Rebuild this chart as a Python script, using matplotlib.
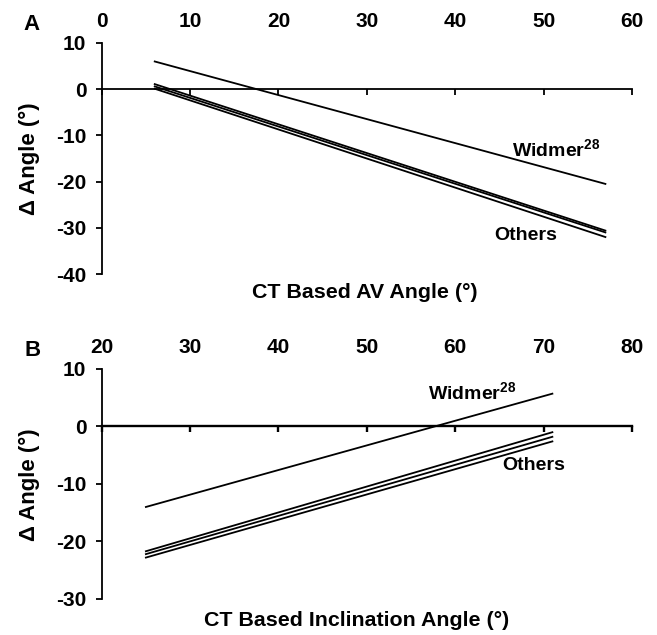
from matplotlib import pyplot as plt
import numpy as np

plt.rcParams['font.family'] = ['Liberation Sans', 'DejaVu Sans']
plt.rcParams['font.weight'] = 'bold'
plt.rcParams['axes.unicode_minus'] = False
plt.rcParams['mathtext.fontset'] = 'custom'
plt.rcParams['mathtext.bf'] = 'Liberation Sans:bold'
plt.rcParams['mathtext.rm'] = 'Liberation Sans:bold'

# panel A: delta angle vs CT based AV angle (line end points)
av_x = [6, 57]
av_widmer = [6.0, -20.5]
av_others = [[1.1, -30.6], [0.6, -31.0], [0.1, -32.0]]

# panel B: delta angle vs CT based inclination angle
inc_x = [25, 71]
inc_widmer = [-14.0, 5.7]
inc_others = [[-21.7, -1.0], [-22.2, -1.8], [-22.8, -2.6]]

fig = plt.figure(figsize=(6.57, 6.35), dpi=100)


def style(ax, xlim, xticks, ylim, yticks, xw=1.3):
    ax.set_xlim(xlim)
    ax.set_ylim(ylim)
    ax.set_xticks(xticks)
    ax.set_yticks(yticks)
    ax.spines['top'].set_visible(False)
    ax.spines['right'].set_visible(False)
    ax.spines['bottom'].set_position(('data', 0))
    ax.spines['bottom'].set_linewidth(xw)
    ax.spines['left'].set_linewidth(1.3)
    ax.tick_params(axis='x', direction='out', length=4, width=xw,
                   bottom=True, top=False, labelbottom=False, labeltop=True,
                   pad=4.3, labelsize=15)
    ax.tick_params(axis='y', direction='out', length=4, width=1.3,
                   labelsize=15, pad=7)
    for t in ax.get_xticklabels() + ax.get_yticklabels():
        t.set_fontweight('bold')


axA = fig.add_axes([0.1548, 0.5685, 0.807, 0.3638])
style(axA, (0, 60), range(0, 61, 10), (-40, 10), range(-40, 11, 10))
axA.plot(av_x, av_widmer, color='black', lw=1.3)
for ys in av_others:
    axA.plot(av_x, ys, color='black', lw=1.3)
axA.text(51.4, -13.2, r'Widmer$^{\mathbf{28}}$', fontsize=14, fontweight='bold', ha='center', va='center')
axA.text(48.0, -31.6, 'Others', fontsize=14, fontweight='bold', ha='center', va='center')

axB = fig.add_axes([0.1548, 0.0567, 0.807, 0.3623])
style(axB, (20, 80), range(20, 81, 10), (-30, 10), range(-30, 11, 10), xw=1.7)
axB.plot(inc_x, inc_widmer, color='black', lw=1.3)
for ys in inc_others:
    axB.plot(inc_x, ys, color='black', lw=1.3)
axB.text(61.9, 5.9, r'Widmer$^{\mathbf{28}}$', fontsize=14, fontweight='bold', ha='center', va='center')
axB.text(68.9, -6.8, 'Others', fontsize=14, fontweight='bold', ha='center', va='center')

fig.text(0.036, 1 - 25 / 635, 'A', fontsize=16, fontweight='bold', ha='left', va='center')
fig.text(0.038, 1 - 351 / 635, 'B', fontsize=16, fontweight='bold', ha='left', va='center')
fig.text(0.556, 1 - 293 / 635, 'CT Based AV Angle (°)', fontsize=15.4, fontweight='bold', ha='center', va='center')
fig.text(0.543, 1 - 621 / 635, 'CT Based Inclination Angle (°)', fontsize=15.4, fontweight='bold', ha='center', va='center')
fig.text(0.045, 1 - 159 / 635, 'Δ Angle (°)', fontsize=16, fontweight='bold', rotation=90, ha='center', va='center')
fig.text(0.045, 1 - 485 / 635, 'Δ Angle (°)', fontsize=16, fontweight='bold', rotation=90, ha='center', va='center')

fig.savefig('out.png', dpi=100)
